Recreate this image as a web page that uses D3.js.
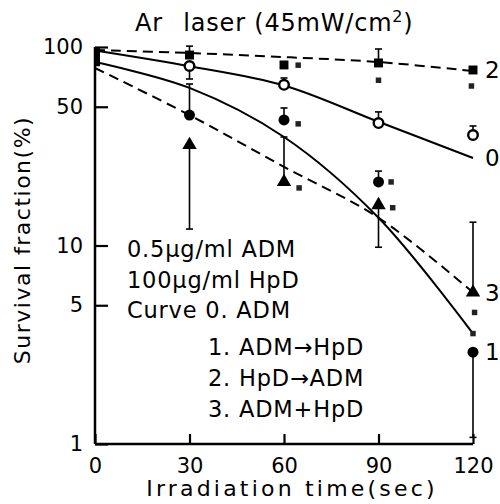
<!DOCTYPE html>
<html>
<head>
<meta charset="utf-8">
<script src="https://cdn.jsdelivr.net/npm/d3@7"></script>
<style>
  body { margin: 0; background: #fff; }
  text { font-family: "DejaVu Sans", sans-serif; fill: #000; }
</style>
</head>
<body>
<svg id="chart"></svg>
<script>
// measured points at 30..120 sec
const ptTimes = [30, 60, 90, 120];
const curve0Pts = [80.2, 64.5, 41.4, 36.0];   // open circles, ADM
const curve1Pts = [45.4, 42.9, 20.9, 2.9];    // filled circles, ADM->HpD
const curve2Pts = [91.1, 81.2, 83.1, 76.6];   // squares, HpD->ADM
const curve3Pts = [32.1, 20.9, 16.0, 5.8];    // triangles, ADM+HpD
// other end of each error bar (null = none)
const curve0Err = [69.0, 69.8, 47.1, 40.0];
const curve1Err = [65.1, 49.3, 23.7, 1.08];
const curve2Err = [101, null, 97.7, null];
const curve3Err = [12.1, 35.2, 9.8, 13.1];

// fitted curves
const fitTimes = [0, 30, 60, 90, 120];
const curve0Fit = [96, 80, 64, 42, 27.6];
const curve1Fit = [84, 62.2, 35.2, 13.8, 3.6];
const curve2Fit = [96.6, 93.3, 89.0, 84.0, 75.7];
const curve3Fit = [78.4, 45.4, 24.9, 13.8, 5.8];

// small significance marks
const starTimes = [64.5, 64.5, 64.8, 90, 94, 94.5, 119.5, 120.5, 120];
const starVals = [81, 41, 19.5, 68, 20.9, 15.5, 63.6, 4.6, 3.6];

const xTicks = [0, 30, 60, 90, 120];
const yTicks = [1, 5, 10, 50, 100];
const curveNames = ["0", "1", "2", "3"];
const notes = ["0.5\u03bcg/ml ADM", "100\u03bcg/ml HpD", "Curve 0. ADM"];
const notes2 = ["1. ADM\u2192HpD", "2. HpD\u2192ADM", "3. ADM+HpD"];

const W = 500, H = 504;
const svg = d3.select("#chart").attr("width", W).attr("height", H);

const x = d3.scaleLinear().domain([0, 120]).range([95, 473]);
const y = d3.scaleLog().domain([1, 100]).range([444, 47]);

// axes
const xAxis = d3.axisBottom(x).tickValues(xTicks).tickSize(-10).tickPadding(14).tickFormat(d3.format("d"));
const yAxis = d3.axisLeft(y).tickValues(yTicks).tickSize(-13).tickPadding(12).tickFormat(d3.format("d"));

const gx = svg.append("g").attr("transform", `translate(0,${y(1)})`).call(xAxis);
const gy = svg.append("g").attr("transform", `translate(${x(0)},0)`).call(yAxis);
[gx, gy].forEach(g => {
  g.select(".domain").attr("stroke", "#000").attr("stroke-width", 2.5);
  g.selectAll(".tick line").attr("stroke", "#000").attr("stroke-width", 2.2);
  g.selectAll(".tick text").style("font-size", "21px").attr("fill", "#000");
});
gx.select(".domain").attr("d", `M${x(0)},0H${x(120)}`);
gy.select(".domain").attr("d", `M0,${y(1)}V${y(100)}`);

// fitted lines
const line = d3.line().x(d => x(d[0])).y(d => y(d[1])).curve(d3.curveCatmullRom);
const fits = [
  {v: curve0Fit, dash: null},
  {v: curve1Fit, dash: null},
  {v: curve2Fit, dash: "10,6"},
  {v: curve3Fit, dash: "10,6"}
];
fits.forEach(f => {
  svg.append("path")
    .datum(fitTimes.map((t, i) => [t, f.v[i]]))
    .attr("d", line)
    .attr("fill", "none")
    .attr("stroke", "#000")
    .attr("stroke-width", 2)
    .attr("stroke-dasharray", f.dash);
});

// error bars
function errBars(vals, errs) {
  ptTimes.forEach((t, i) => {
    if (errs[i] == null) return;
    const g = svg.append("g").attr("stroke", "#000").attr("stroke-width", 1.6);
    g.append("line").attr("x1", x(t)).attr("x2", x(t)).attr("y1", y(vals[i])).attr("y2", y(errs[i]));
    g.append("line").attr("x1", x(t) - 3.5).attr("x2", x(t) + 3.5).attr("y1", y(errs[i])).attr("y2", y(errs[i]));
  });
}
errBars(curve0Pts, curve0Err);
errBars(curve1Pts, curve1Err);
errBars(curve2Pts, curve2Err);
errBars(curve3Pts, curve3Err);

// start cluster at t = 0
svg.append("line").attr("x1", x(0) + 3).attr("x2", x(0) + 3)
  .attr("y1", y(100)).attr("y2", y(80)).attr("stroke", "#000").attr("stroke-width", 4);

// markers
const sym = (type, size) => d3.symbol().type(type).size(size)();
svg.selectAll(".sq").data(curve2Pts).join("path")
  .attr("transform", (d, i) => `translate(${x(ptTimes[i])},${y(d)})`)
  .attr("d", sym(d3.symbolSquare, 80)).attr("fill", "#000");
svg.selectAll(".oc").data(curve0Pts).join("circle")
  .attr("cx", (d, i) => x(ptTimes[i])).attr("cy", d => y(d)).attr("r", 4.8)
  .attr("fill", "#fff").attr("stroke", "#000").attr("stroke-width", 2.4);
svg.selectAll(".fc").data(curve1Pts).join("circle")
  .attr("cx", (d, i) => x(ptTimes[i])).attr("cy", d => y(d)).attr("r", 5.5)
  .attr("fill", "#000");
svg.selectAll(".tri").data(curve3Pts).join("path")
  .attr("transform", (d, i) => `translate(${x(ptTimes[i])},${y(d)})`)
  .attr("d", sym(d3.symbolTriangle, 90)).attr("fill", "#000");
svg.selectAll(".star").data(starVals).join("path")
  .attr("transform", (d, i) => `translate(${x(starTimes[i])},${y(d)})`)
  .attr("d", sym(d3.symbolSquare, 30)).attr("fill", "#222");

// curve labels
const endVals = [curve0Fit[4], curve1Pts[3], curve2Pts[3], curve3Pts[3]];
svg.selectAll(".clab").data(curveNames).join("text")
  .attr("x", x(120) + 12).attr("y", (d, i) => y(endVals[i]))
  .attr("dy", "0.36em").style("font-size", "23px").text(d => d);

// title
const title = svg.append("text").attr("x", 135).attr("y", 31)
  .style("font-size", "24px").style("letter-spacing", "0.8px");
title.append("tspan").text("Ar ");
title.append("tspan").attr("dx", 12).text("laser (45mW/cm");
title.append("tspan").attr("dy", -9).style("font-size", "16px").text("2");
title.append("tspan").attr("dy", 9).text(")");

// notes
svg.selectAll(".n1").data(notes).join("text")
  .attr("x", 127).attr("y", (d, i) => 257 + i * 30.5)
  .style("font-size", "22.5px").style("letter-spacing", "0.8px").text(d => d);
svg.selectAll(".n2").data(notes2).join("text")
  .attr("x", 208).attr("y", (d, i) => 355 + i * 31)
  .style("font-size", "22.5px").style("letter-spacing", "0.8px").text(d => d);

// axis titles
svg.append("text").attr("x", 292).attr("y", 496).attr("text-anchor", "middle")
  .style("font-size", "22px").style("letter-spacing", "3.2px").text("Irradiation time(sec)");
svg.append("text").attr("transform", "translate(30,240) rotate(-90)").attr("text-anchor", "middle")
  .style("font-size", "22px").style("letter-spacing", "1.5px").text("Survival fraction(%)");
</script>
</body>
</html>
